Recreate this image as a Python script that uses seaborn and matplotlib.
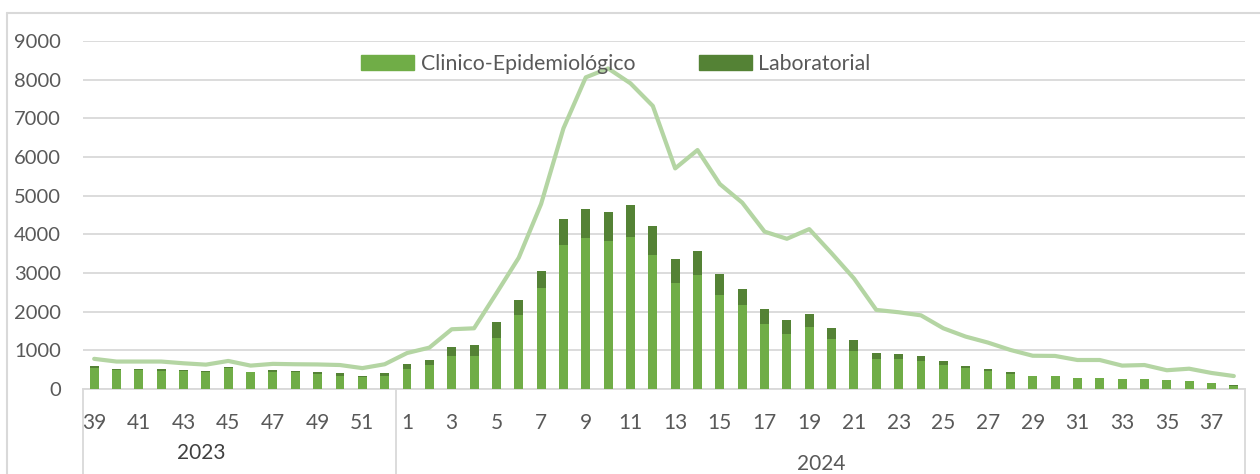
import numpy as np
import pandas as pd
import matplotlib
matplotlib.use('Agg')
import matplotlib.pyplot as plt
import matplotlib.patches as mpatches
from matplotlib.lines import Line2D
import seaborn as sns

sns.set_style('white')
plt.rcParams['font.family'] = ['Lato', 'DejaVu Sans']

# epidemiological weeks: 39-52 of 2023, 1-38 of 2024
weeks_2023 = list(range(39, 53))
weeks_2024 = list(range(1, 39))

clinico = [545, 485, 485, 470, 460, 440, 550, 435, 440, 440, 390, 335, 310, 335,
           505, 620, 855, 855, 1320, 1915, 2610, 3725, 3905, 3835, 3930, 3455, 2750, 2950,
           2440, 2180, 1680, 1420, 1595, 1285, 985, 775, 775, 725, 620, 550, 465, 395,
           340, 330, 280, 280, 255, 260, 230, 200, 150, 90]
laboratorial = [40, 30, 30, 45, 40, 25, 30, 5, 50, 25, 60, 85, 35, 85,
                135, 130, 230, 285, 405, 385, 440, 665, 750, 735, 830, 750, 610, 620,
                535, 400, 395, 365, 355, 285, 275, 165, 130, 120, 95, 55, 45, 35,
                5, 5, 5, 5, 5, 5, 5, 5, 5, 5]
notificados = [780, 710, 710, 710, 665, 630, 725, 605, 650, 640, 635, 620, 540, 640,
               930, 1070, 1545, 1570, 2475, 3395, 4785, 6740, 8060, 8290, 7905, 7320, 5705, 6180,
               5300, 4820, 4070, 3885, 4135, 3510, 2860, 2045, 1985, 1905, 1570, 1355, 1200, 1010,
               860, 855, 750, 750, 605, 620, 485, 525, 415, 335]

keys = ['2023-%d' % w for w in weeks_2023] + ['2024-%d' % w for w in weeks_2024]
week_labels = [str(w) for w in weeks_2023 + weeks_2024]
df = pd.DataFrame({'semana': keys, 'clinico': clinico, 'lab': laboratorial, 'linha': notificados})
df['total'] = df['clinico'] + df['lab']

light = '#70AD47'
dark = '#548235'
line_c = '#B4D5A3'
grid_c = '#D9D9D9'
txt_c = '#595959'

fig = plt.figure(figsize=(12.6, 4.74), dpi=100)
ax = fig.add_axes([83 / 1260, 1 - 389 / 474, (1245 - 83) / 1260, (389 - 41) / 474])

sns.barplot(data=df, x='semana', y='total', order=keys, color=dark, width=0.4,
            linewidth=0, saturation=1, ax=ax, zorder=2)
sns.barplot(data=df, x='semana', y='clinico', order=keys, color=light, width=0.4,
            linewidth=0, saturation=1, ax=ax, zorder=3)
sns.lineplot(x=np.arange(len(keys)), y=df['linha'].values, color=line_c, linewidth=3,
             ax=ax, zorder=4)

ax.set_ylim(0, 9000)
ax.set_xlim(-0.5, len(keys) - 0.5)
ax.set_yticks(range(0, 9001, 1000))
ax.yaxis.grid(True, color=grid_c, linewidth=1.3)
ax.set_axisbelow(True)
ax.set_xticks(range(0, len(keys), 2))
ax.set_xticklabels(week_labels[::2])
ax.tick_params(axis='x', length=0, pad=17, labelsize=15, labelcolor=txt_c)
ax.tick_params(axis='y', length=0, pad=16, labelsize=14.5, labelcolor=txt_c)
ax.set_xlabel('')
ax.set_ylabel('')
for s in ['top', 'right', 'left']:
    ax.spines[s].set_visible(False)
ax.spines['bottom'].set_color(grid_c)
ax.spines['bottom'].set_linewidth(1.3)

# category group boxes below the axis
tr = ax.get_xaxis_transform()
for xb in [-0.5, len(weeks_2023) - 0.5, len(keys) - 0.5]:
    ax.plot([xb, xb], [0, -0.4], color=grid_c, linewidth=1.3, transform=tr, clip_on=False)

fig.text(201 / 1260, 1 - 453 / 474, '2023', ha='center', va='center', fontsize=15, color='#404040')
fig.text(821 / 1260, 1 - 464 / 474, '2024', ha='center', va='center', fontsize=15, color=txt_c)

# outer chart border
fig.add_artist(Line2D([7 / 1260, 7 / 1260], [0, 1 - 13 / 474], color=grid_c, linewidth=1.5))
fig.add_artist(Line2D([7 / 1260, 1], [1 - 13 / 474, 1 - 13 / 474], color=grid_c, linewidth=1.5))

handles = [mpatches.Patch(color=light, label='Clinico-Epidemiológico'),
           mpatches.Patch(color=dark, label='Laboratorial')]
fig.legend(handles=handles, loc='center', bbox_to_anchor=(616 / 1260, 1 - 64 / 474), ncol=2,
           frameon=False, fontsize=15.3, labelcolor=txt_c, handlelength=2.5, handleheight=0.7,
           handletextpad=0.3, columnspacing=3.0, borderaxespad=0)

fig.savefig('out.png', dpi=100)
